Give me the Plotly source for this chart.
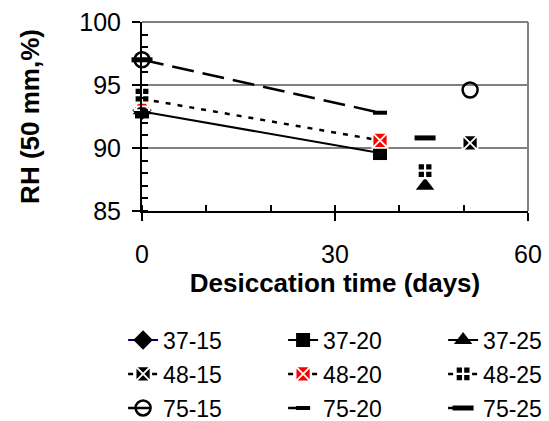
import plotly.graph_objects as go

days = [0, 37, 44, 51]
names = ["37-15", "37-20", "37-25", "48-15", "48-20", "48-25", "75-15", "75-20", "75-25"]
rh_37_15 = [93.0, None, None, None]
rh_37_20 = [92.9, 89.6, None, None]
rh_37_25 = [93.0, None, 87.0, None]
rh_48_15 = [93.6, None, None, 90.4]
rh_48_20 = [93.9, 90.6, None, None]
rh_48_25 = [94.2, None, 88.2, None]
rh_75_15 = [97.0, None, None, 94.6]
rh_75_20 = [97.0, 92.8, None, None]
rh_75_25 = [97.0, None, 90.8, None]
values = [rh_37_15, rh_37_20, rh_37_25, rh_48_15, rh_48_20, rh_48_25, rh_75_15, rh_75_20, rh_75_25]

FONT = "Liberation Sans, Arial, sans-serif"
DOT = "5px,7px"
LDASH = "22px,9px"
styles = [
    dict(line=dict(color="#000080", width=2), marker=dict(symbol="diamond", color="black", size=15)),
    dict(line=dict(color="black", width=2), marker=dict(symbol="square", color="black", size=14)),
    dict(line=dict(color="black", width=2), marker=dict(symbol="triangle-up", color="black", size=16)),
    dict(line=dict(color="black", width=2.5, dash=DOT), marker=dict(symbol="square-x", color="black", size=15, line=dict(color="white", width=1.8))),
    dict(line=dict(color="black", width=2.5, dash=DOT), marker=dict(symbol="square-x", color="red", size=15, line=dict(color="white", width=1.8))),
    dict(line=dict(color="black", width=2.5, dash=DOT), marker=dict(symbol="square-cross", color="black", size=15, line=dict(color="white", width=2.2))),
    dict(line=dict(color="black", width=2.5, dash=LDASH), marker=dict(symbol="circle-open", color="black", size=15, line=dict(color="black", width=2.5))),
    dict(line=dict(color="black", width=2.5, dash=LDASH), marker=dict(symbol="line-ew", color="black", size=10, line=dict(color="black", width=4))),
    dict(line=dict(color="black", width=2.5, dash=LDASH), marker=dict(symbol="line-ew", color="black", size=15, line=dict(color="black", width=5))),
]
legends = ["legend", "legend", "legend", "legend2", "legend2", "legend2", "legend3", "legend3", "legend3"]

fig = go.Figure()
for n, v, s, lg in zip(names, values, styles, legends):
    fig.add_trace(go.Scatter(x=days, y=v, name=n, mode="lines+markers", connectgaps=False,
                             cliponaxis=False, line=s["line"], marker=s["marker"], legend=lg))

# plot area: x 142..528 (386 px), y 22..211 (189 px)
leg_common = dict(orientation="h", xanchor="left", yanchor="middle", x=-0.049,
                  font=dict(family=FONT, size=23, color="black"), entrywidth=115,
                  bgcolor="rgba(0,0,0,0)", itemwidth=30)

fig.update_layout(
    width=549, height=421,
    margin=dict(l=142, r=21, t=22, b=210, autoexpand=False),
    plot_bgcolor="white", paper_bgcolor="white",
    font=dict(family=FONT, size=24, color="black"),
    legend=dict(**leg_common, y=-(340 - 211) / 189),
    legend2=dict(**leg_common, y=-(374 - 211) / 189),
    legend3=dict(**leg_common, y=-(408 - 211) / 189),
    xaxis=dict(range=[0, 60], dtick=30, tick0=0, showline=True, linecolor="black", linewidth=2,
               ticks="outside", ticklen=8, tickwidth=1.5, tickcolor="black",
               minor=dict(dtick=10, ticks="inside", ticklen=6, tickcolor="black", tickwidth=1.5),
               showgrid=False, zeroline=False, ticklabelstandoff=12,
               tickfont=dict(family=FONT, size=25, color="black"),
               title=dict(text="<b>Desiccation time (days)</b>", standoff=2,
                          font=dict(family=FONT, size=26, color="black"))),
    yaxis=dict(range=[85, 100], dtick=5, tick0=85, showline=True, linecolor="black", linewidth=2,
               ticks="outside", ticklen=8, tickwidth=1.5, tickcolor="black",
               minor=dict(dtick=1, ticks="inside", ticklen=6, tickcolor="black", tickwidth=1.5),
               showgrid=True, gridcolor="#808080", gridwidth=1.5, zeroline=False,
               ticklabelstandoff=6,
               tickfont=dict(family=FONT, size=25, color="black"),
               title=dict(text="<b>RH (50 mm,%)</b>", standoff=32,
                          font=dict(family=FONT, size=26, color="black"))),
    shapes=[
        dict(type="line", xref="paper", yref="paper", x0=0, x1=1, y0=1, y1=1,
             line=dict(color="#808080", width=2)),
        dict(type="line", xref="paper", yref="paper", x0=1, x1=1, y0=0, y1=1,
             line=dict(color="#808080", width=2)),
    ],
)

fig.write_html("out.html")
